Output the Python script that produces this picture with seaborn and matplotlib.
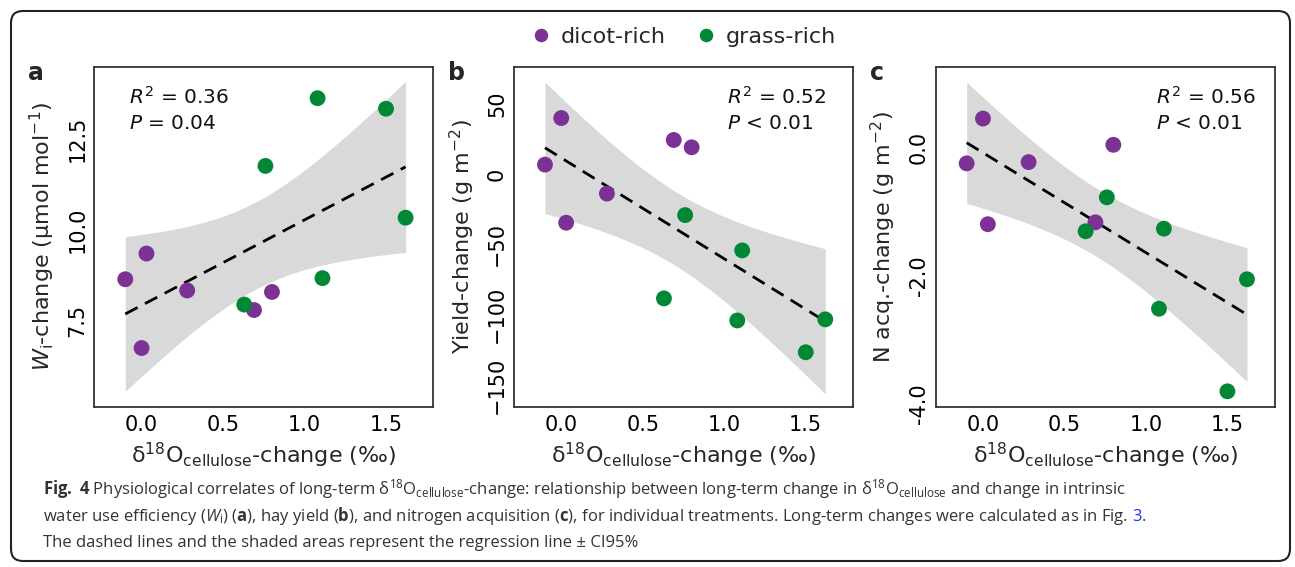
import numpy as np
import pandas as pd
import matplotlib
matplotlib.use("Agg")
import matplotlib.pyplot as plt
from matplotlib.patches import FancyBboxPatch
import seaborn as sns

# long-term d18O cellulose change per treatment (x, shared by all panels)
d18o = [-0.10, 0.00, 0.03, 0.28, 0.69, 0.80, 0.63, 0.76, 1.08, 1.11, 1.50, 1.62]
group = ["dicot-rich"] * 6 + ["grass-rich"] * 6
wi_change = [8.63, 6.73, 9.34, 8.32, 7.78, 8.28, 7.93, 11.76, 13.63, 8.66, 13.34, 10.33]
yield_change = [6.7, 39.8, -34.6, -13.9, 24.2, 19.0, -88.4, -29.2, -104.1, -54.3, -126.7, -103.3]
nacq_change = [-0.25, 0.45, -1.20, -0.23, -1.17, 0.04, -1.31, -0.78, -2.52, -1.27, -3.81, -2.06]

stats_a = ["$R^2$ = 0.36", "$P$ = 0.04"]
stats_b = ["$R^2$ = 0.52", "$P$ < 0.01"]
stats_c = ["$R^2$ = 0.56", "$P$ < 0.01"]

yticks_a = [7.5, 10.0, 12.5]
ylabels_a = ["7.5", "10.0", "12.5"]
yticks_b = [-150, -100, -50, 0, 50]
ylabels_b = ["\u2212150", "\u2212100", "\u221250", "0", "50"]
yticks_c = [-4.0, -2.0, 0.0]
ylabels_c = ["-4.0", "-2.0", "0.0"]
xticks = [0.0, 0.5, 1.0, 1.5]
xlabels = ["0.0", "0.5", "1.0", "1.5"]

df = pd.DataFrame({"d18o": d18o, "group": group, "wi": wi_change,
                   "yld": yield_change, "nacq": nacq_change})

PURPLE = "#7b3294"
GREEN = "#008837"
T975 = 2.228  # t quantile, 10 df

sns.set_style("white")
plt.rcParams["font.family"] = ["DejaVu Sans"]
plt.rcParams["mathtext.rm"] = "Open Sans"
plt.rcParams["mathtext.it"] = "Open Sans:italic"
plt.rcParams["mathtext.bf"] = "Open Sans:bold"

W, H = 1295, 567
fig = plt.figure(figsize=(W / 100, H / 100), dpi=100)

panels = [
    ("a", "wi", r"$W_{\mathrm{i}}$-change (μmol mol$^{-1}$)", (5.11, 14.5),
     yticks_a, ylabels_a, stats_a, 94.3),
    ("b", "yld", r"Yield-change (g m$^{-2}$)", (-165.4, 76.3),
     yticks_b, ylabels_b, stats_b, 514),
    ("c", "nacq", r"N acq.-change (g m$^{-2}$)", (-4.05, 1.26),
     yticks_c, ylabels_c, stats_c, 935.7),
]
stat_x = [0.102, 0.628, 0.649]
letter_x = [35.5, 456, 877]

ax_w, ax_h = 339, 340
handles = labels = None
for i, (letter, col, ylab, ylim, yt, ytl, stats, left) in enumerate(panels):
    ax = fig.add_axes([left / W, 1 - 406.7 / H, ax_w / W, ax_h / H])

    # regression CI band (analytic, 95%)
    x = df["d18o"].to_numpy()
    y = df[col].to_numpy()
    slope, icpt = np.polyfit(x, y, 1)
    grid = np.linspace(x.min(), x.max(), 200)
    resid = y - (icpt + slope * x)
    s = np.sqrt(np.sum(resid ** 2) / (len(x) - 2))
    se = s * np.sqrt(1 / len(x) + (grid - x.mean()) ** 2 / np.sum((x - x.mean()) ** 2))
    fit = icpt + slope * grid
    ax.fill_between(grid, fit - T975 * se, fit + T975 * se, color="#d9d9d9", lw=0, zorder=0)

    sns.regplot(data=df, x="d18o", y=col, scatter=False, ci=None, ax=ax,
                color="black", line_kws=dict(ls=(0, (5, 3)), lw=2, zorder=2))
    sns.scatterplot(data=df, x="d18o", y=col, hue="group", ax=ax,
                    palette={"dicot-rich": PURPLE, "grass-rich": GREEN},
                    s=130, linewidth=0, zorder=3, legend=(i == 0))
    if i == 0:
        handles, labels = ax.get_legend_handles_labels()
        ax.get_legend().remove()

    ax.set_xlim(-0.29, 1.79)
    ax.set_ylim(*ylim)
    ax.set_xticks(xticks, xlabels)
    ax.set_yticks(yt, ytl)
    for sp in ax.spines.values():
        sp.set_visible(True)
        sp.set_color("#333333")
        sp.set_linewidth(1.3)
    ax.tick_params(direction="in", length=12, width=1.3, color="#333333",
                   labelsize=15, labelcolor="black")
    ax.tick_params(axis="x", pad=6)
    ax.tick_params(axis="y", pad=5, labelrotation=90)
    plt.setp(ax.get_yticklabels(), va="center")

    ax.set_xlabel(r"δ$^{18}$O$_{\mathrm{cellulose}}$-change (‰)", fontsize=16, va="center")
    ax.xaxis.set_label_coords(0.5, -48.3 / ax_h)
    ax.set_ylabel(ylab, fontsize=16, va="center")
    ax.yaxis.set_label_coords(-52 / ax_w, 0.5)

    ax.text(stat_x[i], 0.892, stats[0], transform=ax.transAxes, fontsize=14.5,
            va="baseline", ha="left", color="#111111")
    ax.text(stat_x[i], 0.817, stats[1], transform=ax.transAxes, fontsize=14.5,
            va="baseline", ha="left", color="#111111")

    fig.text(letter_x[i] / W, 1 - 73.5 / H, letter, fontsize=17, weight="bold",
             ha="center", va="center")

fig.legend(handles, labels, loc="center", bbox_to_anchor=(683 / W, 1 - 37 / H),
           ncol=2, frameon=False, fontsize=16, handlelength=1.0,
           handletextpad=0.4, columnspacing=1.3, markerscale=0.85)

# caption
cap_kw = dict(family="Open Sans", math_fontfamily="custom", fontsize=12,
              color="#333333", va="baseline", ha="left")
line1 = (r"$\mathbf{Fig.\ 4}$ Physiological correlates of long-term δ$^{18}$O$_{\mathrm{cellulose}}$"
         r"-change: relationship between long-term change in δ$^{18}$O$_{\mathrm{cellulose}}$"
         " and change in intrinsic")
line2 = (r"water use efficiency ($W_{\mathrm{i}}$) ($\mathbf{a}$), hay yield ($\mathbf{b}$), "
         r"and nitrogen acquisition ($\mathbf{c}$), for individual treatments. "
         "Long-term changes were calculated as in Fig.")
line3 = "The dashed lines and the shaded areas represent the regression line ± CI95%"
fig.text(43 / W, 1 - 494 / H, line1, **cap_kw)
t2 = fig.text(43 / W, 1 - 520.7 / H, line2, **cap_kw)
fig.text(43 / W, 1 - 547.4 / H, line3, **cap_kw)

rend = fig.canvas.get_renderer()
x_end = t2.get_window_extent(rend).x1 + 4
t3 = fig.text(x_end / W, 1 - 520.7 / H, "3", **{**cap_kw, "color": "#2a2aff"})
x_end = t3.get_window_extent(rend).x1
fig.text(x_end / W, 1 - 520.7 / H, ".", **cap_kw)

# rounded frame around the whole figure
r = 12
fig.patches.append(FancyBboxPatch((11 + r, 6 + r), 1290 - 11 - 2 * r, 556 - 6 - 2 * r,
                                  boxstyle=f"round,pad={r}", transform=None,
                                  fill=False, ec="#222222", lw=1.5))

fig.savefig("out.png", dpi=100)
